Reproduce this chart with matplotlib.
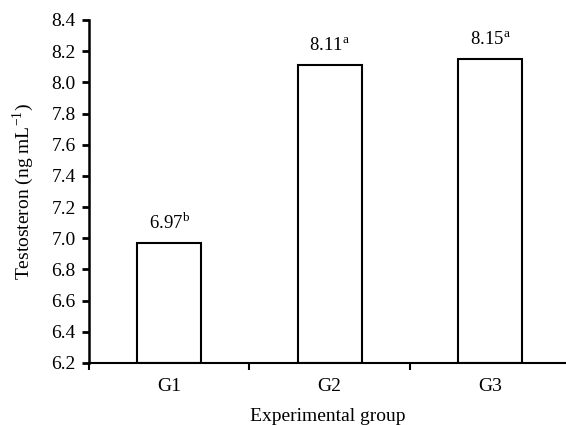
import matplotlib.pyplot as plt

# Values
groups = ['G1', 'G2', 'G3']
testosterone = [6.97, 8.11, 8.15]
letters = ['b', 'a', 'a']

plt.rcParams['font.family'] = ['Liberation Serif', 'DejaVu Serif']
plt.rcParams['mathtext.fontset'] = 'stix'

fig = plt.figure(figsize=(5.66, 4.25), dpi=100)
ax = fig.add_axes([0.157, 0.146, 0.843, 0.807])

x = range(len(groups))
ax.bar(x, [v - 6.2 for v in testosterone], bottom=6.2, width=0.40,
       color='white', edgecolor='black', linewidth=1.5)

# value labels with significance letters
for i, (v, l) in enumerate(zip(testosterone, letters)):
    ax.annotate(f'{v:.2f}$^{{\\mathregular{{{l}}}}}$', (i, v), xytext=(0, 7),
                textcoords='offset points', ha='center', va='bottom', fontsize=13.5)

ax.set_ylim(6.2, 8.4)
ax.set_yticks([6.2 + 0.2 * k for k in range(12)])
ax.set_yticklabels([f'{6.2 + 0.2 * k:.1f}' for k in range(12)], fontsize=14)
ax.set_xlim(-0.5, 2.472)
ax.set_xticks([-0.5, 0.5, 1.5])
ax.set_xticklabels([])
ax.set_xticks([0, 1, 2], minor=True)
ax.set_xticklabels(groups, minor=True, fontsize=14)
ax.tick_params(axis='x', which='minor', length=0, pad=11)
ax.tick_params(axis='x', which='major', length=5, width=1.5, direction='out')
ax.tick_params(axis='y', length=5, width=2, direction='out', pad=4.5)

ax.spines['top'].set_visible(False)
ax.spines['right'].set_visible(False)
ax.spines['left'].set_linewidth(1.8)
ax.spines['bottom'].set_linewidth(1.5)

ax.set_ylabel('Testosteron (ng mL$^{\\mathregular{-1}}$)', fontsize=14, labelpad=11)
ax.set_xlabel('Experimental group', fontsize=14, labelpad=9)

fig.savefig('out.png', dpi=100)
